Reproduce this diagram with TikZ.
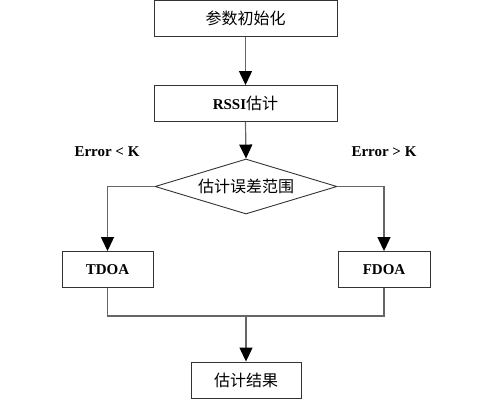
\documentclass[tikz,border=0pt]{standalone}
\usepackage{fontspec}
\setmainfont{Liberation Serif}
\newfontfamily\cjk{Noto Sans CJK SC}
\usetikzlibrary{shapes.geometric,arrows.meta}
\begin{document}
\begin{tikzpicture}[x=1pt,y=-1pt,
  box/.style={draw=black!80,line width=0.9pt,minimum height=36pt,inner sep=0pt,font=\fontsize{16}{16}\selectfont},
  conn/.style={draw=black!60,line width=1.2pt},
  arr/.style={conn,-{Triangle[length=14pt,width=13pt,color=black]}},
  lbl/.style={font=\fontsize{15}{15}\selectfont\bfseries}]
\useasboundingbox (0,0) rectangle (498,405);
\node[box,minimum width=183pt] (init) at (245.5,18.5) {\cjk 参数初始化};
\node[box,minimum width=183pt] (rssi) at (245.5,103.5) {\fontsize{15}{15}\selectfont\textbf{RSSI}\fontsize{16}{16}\selectfont{\cjk 估计}};
\node[draw=black!80,line width=0.9pt,diamond,aspect=3.35,inner sep=0pt,minimum width=182pt,minimum height=55pt,font=\fontsize{16}{16}\selectfont] (judge) at (246,186.5) {\cjk 估计误差范围};
\node[box,minimum width=91pt,font=\fontsize{15}{15}\selectfont\bfseries] (tdoa) at (107.5,269.5) {TDOA};
\node[box,minimum width=92pt,font=\fontsize{15}{15}\selectfont\bfseries] (fdoa) at (384,269.5) {FDOA};
\node[box,minimum width=110pt] (res) at (246,380) {\cjk 估计结果};
\node[lbl] (lk) at (107,152) {Error < K};
\node[lbl] (gk) at (384,152) {Error > K};
\coordinate (ml) at (108,316);
\coordinate (mr) at (384,316);
\coordinate (mm) at (246,316);
\draw[arr] (init.south) -- (rssi.north);
\draw[arr] (rssi.south) -- (judge.north);
\draw[arr] (judge.west) -| (tdoa.north);
\draw[arr] (judge.east) -| (fdoa.north);
\draw[conn] (tdoa.south) |- (ml) -- (mr) -| (fdoa.south);
\draw[arr] (mm) -- (res.north);
\end{tikzpicture}
\end{document}
